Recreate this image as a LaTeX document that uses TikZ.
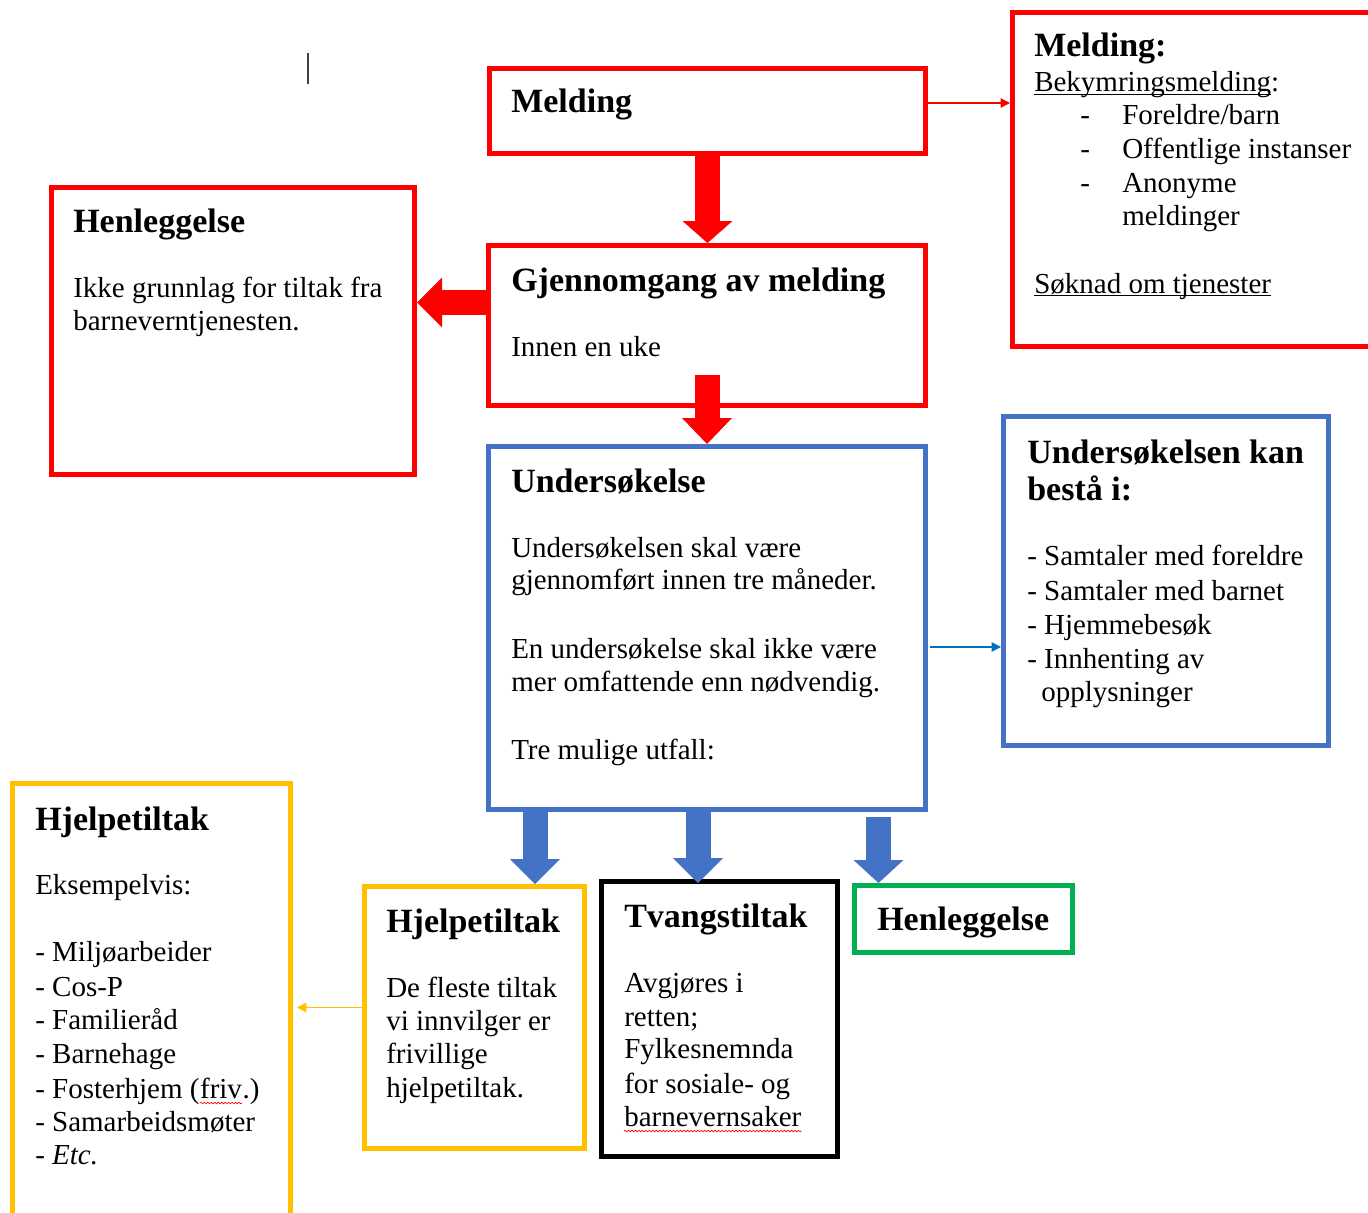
\documentclass[tikz,border=0pt]{standalone}
\usepackage{fontspec}
\setmainfont{Liberation Serif}
\usetikzlibrary{arrows.meta,calc,decorations.pathmorphing}
\newdimen\pxu \pxu=0.75pt
\newcommand\myul[1]{\setbox0\hbox{#1}\rlap{\rule[-2.6pt]{\wd0}{0.9pt}}\box0}
\definecolor{cred}{HTML}{FF0000}
\definecolor{cblue}{HTML}{4472C4}
\definecolor{cblue2}{HTML}{0070C0}
\definecolor{cyellow}{HTML}{FFC000}
\definecolor{cgreen}{HTML}{00B050}
\tikzset{
  bx/.style={draw=#1, line width=3.75pt, inner sep=0pt, rectangle},
  tb/.style={anchor=base west, inner sep=0pt, font=\fontsize{21.75}{25}\selectfont},
  tt/.style={anchor=base west, inner sep=0pt, font=\fontsize{25.5}{29}\selectfont\bfseries},
  fat/.style 2 args={draw=#1, line width=18.75pt, -{Triangle[line width=0pt, length=#2, width=37.5pt]}},
  thin/.style={draw=#1, line width=1pt, -{Triangle[length=7pt, width=7pt]}},
  squig/.style={draw=red, line width=0.5pt, decorate, decoration={snake, amplitude=0.6pt, segment length=2.6pt}}
}
\begin{document}
\begin{tikzpicture}[x=0.75pt, y=-0.75pt]
\useasboundingbox (0,0) rectangle (1368,1213);

% boxes
\node[bx=cred, minimum width=436\pxu, minimum height=85\pxu] (melding) at (707.5,111) {};
\node[bx=cred, minimum width=363\pxu, minimum height=334\pxu] (meldR) at (1194,179.5) {};
\node[bx=cred, minimum width=363\pxu, minimum height=287\pxu] (henL) at (233,331) {};
\node[bx=cred, minimum width=437\pxu, minimum height=160\pxu] (gjen) at (707,325.5) {};
\node[bx=cblue, minimum width=437\pxu, minimum height=363\pxu] (und) at (707,628) {};
\node[bx=cblue, minimum width=325\pxu, minimum height=329\pxu] (undR) at (1166,581) {};
\node[bx=cyellow, minimum width=278\pxu, minimum height=439\pxu] (hjelpL) at (151.5,1003) {};
\node[bx=cyellow, minimum width=220\pxu, minimum height=262\pxu] (hjelpM) at (474.5,1017.5) {};
\node[bx=black, minimum width=236\pxu, minimum height=275\pxu] (tvang) at (719.5,1019) {};
\node[bx=cgreen, minimum width=218\pxu, minimum height=67\pxu] (henG) at (963.5,919) {};

% text cursor
\draw[line width=1.4pt, black!75] (308,53) -- (308,84);

% texts
\node[tt] (t1) at (511,113) {Melding};
\node[tt] (t2) at (511,291) {Gjennomgang av melding};
\node[tb] (t3) at (511,356) {Innen en uke};
\node[tt] (t4) at (73,232) {Henleggelse};
\node[tb] (t5) at (73,297) {Ikke grunnlag for tiltak fra};
\node[tb] (t6) at (73,330) {barneverntjenesten.};

\node[tt] (t7) at (1034,57) {Melding:};
\node[tb] (t8) at (1034,92) {\myul{Bekymringsmelding}:};
\node[tb] (d1) at (1080,125) {-};
\node[tb] (d2) at (1080,158) {-};
\node[tb] (d3) at (1080,192) {-};
\node[tb] (t9) at (1122,125) {Foreldre/barn};
\node[tb] (t10) at (1122,158) {Offentlige instanser};
\node[tb] (t11) at (1122,192) {Anonyme};
\node[tb] (t12) at (1122,225) {meldinger};
\node[tb] (t13) at (1034,293) {\myul{Søknad om tjenester}};

\node[tt] (t14) at (511,492) {Undersøkelse};
\node[tb] (t15) at (511,557) {Undersøkelsen skal være};
\node[tb] (t16) at (511,589) {gjennomført innen tre måneder.};
\node[tb] (t17) at (511,658) {En undersøkelse skal ikke være};
\node[tb] (t18) at (511,691) {mer omfattende enn nødvendig.};
\node[tb] (t19) at (511,759) {Tre mulige utfall:};

\node[tt] (t20) at (1027,463) {Undersøkelsen kan};
\node[tt] (t21) at (1027,500) {bestå i:};
\node[tb] (t22) at (1027,565) {- Samtaler med foreldre};
\node[tb] (t23) at (1027,600) {- Samtaler med barnet};
\node[tb] (t24) at (1027,634) {- Hjemmebesøk};
\node[tb] (t25) at (1027,668) {- Innhenting av};
\node[tb] (t26) at (1041,701) {opplysninger};

\node[tt] (t27) at (35,830) {Hjelpetiltak};
\node[tb] (t28) at (35,894) {Eksempelvis:};
\node[tb] (t29) at (35,961) {- Miljøarbeider};
\node[tb] (t30) at (35,996) {- Cos-P};
\node[tb] (t31) at (35,1029) {- Familieråd};
\node[tb] (t32) at (35,1063) {- Barnehage};
\node[tb] (t33a) at (35,1098) {- Fosterhjem (};
\node[tb] (t33b) at (t33a.base east) {friv};
\node[tb] (t33c) at (t33b.base east) {.)};
\node[tb] (t34) at (35,1131) {- Samarbeidsmøter};
\node[tb, font=\fontsize{21.75}{25}\selectfont\itshape] (t35) at (35,1164) {- Etc.};

\node[tt] (t36) at (386,932) {Hjelpetiltak};
\node[tb] (t37) at (386,997) {De fleste tiltak};
\node[tb] (t38) at (386,1030) {vi innvilger er};
\node[tb] (t39) at (386,1063) {frivillige};
\node[tb] (t40) at (386,1097) {hjelpetiltak.};

\node[tt] (t41) at (624,927) {Tvangstiltak};
\node[tb] (t42) at (624,992) {Avgjøres i};
\node[tb] (t43) at (624,1026) {retten;};
\node[tb] (t44) at (624,1058) {Fylkesnemnda};
\node[tb] (t45) at (624,1093) {for sosiale- og};
\node[tb] (t46) at (624,1126) {barnevernsaker};

\node[tt] (t47) at (877,930) {Henleggelse};

% spell-check squiggles
\draw[squig] ($(t33b.base west)+(0,5)$) -- ($(t33b.base east)+(0,5)$);
\draw[squig] ($(t46.base west)+(0,5)$) -- ($(t46.base east)+(0,5)$);

% fat red arrows
\draw[fat={cred}{16.5pt}] (melding.south) -- (melding.south |- gjen.north);
\coordinate (a2s) at ($(gjen.south)+(0,-33)$);
\draw[fat={cred}{19.5pt}] (a2s) -- (a2s |- und.north);
\coordinate (a3s) at ($(gjen.west)+(0,-23)$);
\draw[fat={cred}{18.75pt}] (a3s) -- (a3s -| henL.east);

% thin arrows
\coordinate (a4s) at ($(melding.east)+(0,-8)$);
\draw[thin=cred] (a4s) -- (a4s -| meldR.west);
\coordinate (a5s) at ($(und.east)+(2,19)$);
\draw[thin=cblue2] (a5s) -- (a5s -| undR.west);
\coordinate (a6s) at ($(hjelpM.west)+(0,-10)$);
\draw[thin=cyellow, shorten >=3pt] (a6s) -- (a6s -| hjelpL.east);

% fat blue arrows
\coordinate (b1s) at ($(und.south)+(-172,0)$);
\draw[fat={cblue}{18.75pt}] (b1s) -- (b1s |- hjelpM.north);
\coordinate (b2s) at ($(und.south)+(-9,0)$);
\draw[fat={cblue}{18.75pt}, shorten >=-3pt] (b2s) -- (b2s |- tvang.north);
\coordinate (b3s) at ($(und.south)+(171.5,5)$);
\draw[fat={cblue}{17.25pt}] (b3s) -- (b3s |- henG.north);
\end{tikzpicture}
\end{document}
